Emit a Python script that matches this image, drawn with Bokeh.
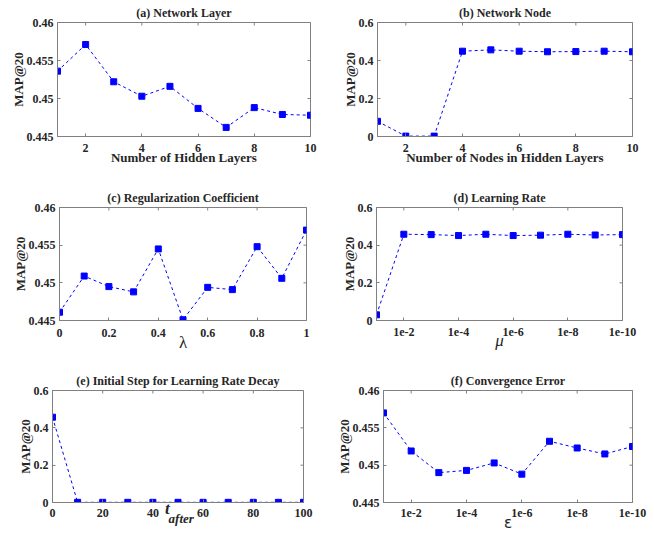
import math
from bokeh.plotting import figure
from bokeh.layouts import column, row
from bokeh.models import Range1d, FixedTicker, LinearAxis, CustomJSTickFormatter
from bokeh.embed import file_html
from bokeh.resources import INLINE

# ---------------- data ----------------
layers = [1, 2, 3, 4, 5, 6, 7, 8, 9, 10]
map_layers = [0.4536, 0.4571, 0.4522, 0.4503, 0.4516, 0.4487, 0.4462, 0.4488, 0.4479, 0.4478]

nodes = [1, 2, 3, 4, 5, 6, 7, 8, 9, 10]
map_nodes = [0.080, 0.002, 0.002, 0.449, 0.456, 0.449, 0.446, 0.447, 0.449, 0.446]

lambdas = [0.0, 0.1, 0.2, 0.3, 0.4, 0.5, 0.6, 0.7, 0.8, 0.9, 1.0]
map_lambda = [0.4461, 0.4509, 0.4495, 0.4488, 0.4545, 0.4451, 0.4494, 0.4491, 0.4548, 0.4506, 0.4570]

lr_index = [1, 2, 3, 4, 5, 6, 7, 8, 9, 10]
lr_labels = ["1e-1", "1e-2", "1e-3", "1e-4", "1e-5", "1e-6", "1e-7", "1e-8", "1e-9", "1e-10"]
map_lr = [0.030, 0.458, 0.456, 0.451, 0.458, 0.451, 0.453, 0.458, 0.454, 0.456]

t_after = [0, 10, 20, 30, 40, 50, 60, 70, 80, 90, 100]
map_t = [0.457, 0.001, 0.001, 0.001, 0.001, 0.001, 0.001, 0.001, 0.001, 0.001, 0.001]

eps_index = [1, 2, 3, 4, 5, 6, 7, 8, 9, 10]
eps_labels = ["1e-1", "1e-2", "1e-3", "1e-4", "1e-5", "1e-6", "1e-7", "1e-8", "1e-9", "1e-10"]
map_eps = [0.4570, 0.4519, 0.4490, 0.4493, 0.4503, 0.4488, 0.4532, 0.4523, 0.4515, 0.4525]

small_yticks = [0.445, 0.45, 0.455, 0.46]
big_yticks = [0, 0.2, 0.4, 0.6]
even_ticks = [2, 4, 6, 8, 10]

FONT = "Liberation Serif"
FRAME = "#808080"
TXT = "#262626"
BLUE = "#0000ff"
NB = "\u00a0"

fmt = CustomJSTickFormatter(code="return String(+tick.toFixed(4));")


def make(title, xs, ys, xr, yr, xticks, yticks, xlabel, w, h, bl, br, bt, bb,
         xoverrides=None, xlabel_style="bold", xlabel_size="13px", xlabel_font=FONT,
         xlabel_standoff=-5, tick_standoff=7):
    p = figure(width=w, height=h, output_backend="svg", toolbar_location=None,
               x_range=Range1d(*xr), y_range=Range1d(*yr),
               min_border_left=bl, min_border_right=br, min_border_top=bt, min_border_bottom=bb)
    p.title.text = title
    p.title.text_font = FONT
    p.title.text_font_size = "12px"
    p.title.text_font_style = "bold"
    p.title.text_color = TXT
    p.title.align = "center"
    p.title.standoff = 5
    p.grid.visible = False
    p.outline_line_color = FRAME
    p.outline_line_width = 1

    ax = p.xaxis[0]
    ax.ticker = FixedTicker(ticks=xticks)
    if xoverrides:
        ax.major_label_overrides = xoverrides
    else:
        ax.formatter = fmt
    ax.axis_label = xlabel
    ax.axis_label_text_font = xlabel_font
    ax.axis_label_text_font_size = xlabel_size
    ax.axis_label_text_font_style = xlabel_style
    ax.axis_label_standoff = xlabel_standoff
    ax.major_label_standoff = tick_standoff

    ay = p.yaxis[0]
    ay.ticker = FixedTicker(ticks=yticks)
    ay.formatter = fmt
    ay.axis_label = "MAP@20"
    ay.axis_label_text_font = FONT
    ay.axis_label_text_font_size = "13px"
    ay.axis_label_text_font_style = "bold"
    ay.axis_label_standoff = -2
    ay.major_label_standoff = 4

    for a in (ax, ay):
        a.axis_line_color = FRAME
        a.major_tick_line_color = FRAME
        a.major_tick_in = 3
        a.major_tick_out = 0
        a.minor_tick_line_color = None
        a.major_label_text_font = FONT
        a.major_label_text_font_size = "12px"
        a.major_label_text_font_style = "bold"
        a.major_label_text_color = TXT
        a.axis_label_text_color = TXT

    # mirrored inward tick marks on the top and right edges (box style);
    # dash markers are clipped by the frame so only the inner half shows
    p.scatter(xticks, [yr[1]] * len(xticks), marker="dash", angle=math.pi / 2, size=6,
              line_color=FRAME, line_width=1)
    p.scatter([xr[1]] * len(yticks), yticks, marker="dash", size=6,
              line_color=FRAME, line_width=1)

    p.line(xs, ys, line_color=BLUE, line_width=1, line_dash="3 3")
    p.scatter(xs, ys, marker="square", size=6, fill_color=BLUE, line_color=BLUE, line_width=1)
    return p


ov_lr = {i: lab for i, lab in zip(lr_index, lr_labels) if i in even_ticks}
ov_eps = {i: lab for i, lab in zip(eps_index, eps_labels) if i in even_ticks}

# row 1 (height 180)
pa = make("(a) Network Layer", layers, map_layers, (1, 10), (0.445, 0.46),
          even_ticks, small_yticks, "Number of Hidden Layers",
          320, 180, 57, 10, 22, 44)
pb = make("(b) Network Node", nodes, map_nodes, (1, 10), (0, 0.6),
          even_ticks, big_yticks, "Number of Nodes in Hidden Layers",
          334, 180, 57, 22, 22, 44)
# row 2 (height 176)
pc = make("(c) Regularization Coefficient", lambdas, map_lambda, (0, 1), (0.445, 0.46),
          [0, 0.2, 0.4, 0.6, 0.8, 1.0], small_yticks, "λ",
          320, 176, 59, 14, 27, 36, xlabel_style="normal", xlabel_size="17px",
          xlabel_standoff=-7, tick_standoff=8)
pd = make("(d) Learning Rate", lr_index, map_lr, (1, 10), (0, 0.6),
          even_ticks, big_yticks, "μ",
          334, 176, 56, 32, 27, 36, xoverrides=ov_lr,
          xlabel_style="italic", xlabel_size="17px", xlabel_standoff=-8, tick_standoff=7)
# row 3 (height 178)
pe = make("(e) Initial Step for Learning Rate Decay", t_after, map_t, (0, 100), (0, 0.6),
          [0, 20, 40, 60, 80, 100], big_yticks, "t" + NB * 5,
          320, 178, 52, 17, 34, 31, xlabel_style="bold italic", xlabel_size="17px",
          xlabel_standoff=-21, tick_standoff=6)
pf = make("(f) Convergence Error", eps_index, map_eps, (1, 10), (0.445, 0.46),
          even_ticks, small_yticks, "ε",
          334, 178, 63, 22, 34, 31, xoverrides=ov_eps,
          xlabel_style="normal", xlabel_size="15px", xlabel_font="DejaVu Sans",
          xlabel_standoff=-6, tick_standoff=6)

# subscript "after" of the t_after label in panel (e): an extra bare axis below
sub = LinearAxis(ticker=FixedTicker(ticks=[]), axis_line_color=None,
                 major_tick_line_color=None, minor_tick_line_color=None,
                 axis_label=NB * 2 + "after", axis_label_text_font=FONT,
                 axis_label_text_font_size="13px", axis_label_text_font_style="bold italic",
                 axis_label_text_color=TXT, axis_label_standoff=-10,
                 major_label_standoff=0)
pe.add_layout(sub, "below")

layout = column(row(pa, pb), row(pc, pd), row(pe, pf), spacing=0)
open("out.html", "w").write(file_html(layout, INLINE))
